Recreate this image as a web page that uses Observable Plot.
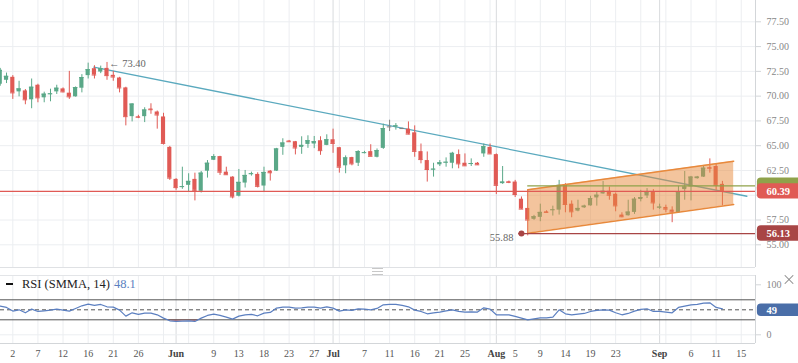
<!DOCTYPE html>
<html><head><meta charset="utf-8">
<script src="https://cdn.jsdelivr.net/npm/d3@7"></script>
<script src="https://cdn.jsdelivr.net/npm/@observablehq/plot@0.6"></script>
<style>
body{margin:0;background:#fff;}
#wrap{position:relative;width:798px;height:363px;overflow:hidden;background:#fff;font-family:"Liberation Serif",serif;}
#main{position:absolute;left:0;top:0;}
#rsi{position:absolute;left:0;top:268px;}
#legend{position:absolute;left:6px;top:277px;font-size:12.5px;color:#222;white-space:nowrap;z-index:5;}
#legend .dash{display:inline-block;width:7px;height:2px;background:#111;vertical-align:middle;margin-right:9px;margin-top:-2px;}
#legend .val{color:#5b7fc0;margin-left:4px;}
#close{position:absolute;left:784px;top:274px;width:10px;height:10px;z-index:5;}
#close::before,#close::after{content:"";position:absolute;left:-1px;top:4.5px;width:12px;height:1px;background:#888;}
#close::before{transform:rotate(45deg);}
#close::after{transform:rotate(-45deg);}
#handle{position:absolute;left:372px;top:268px;width:11px;height:5px;border-top:1px solid #c8c8c8;border-bottom:1px solid #c8c8c8;z-index:5;}
#handle::after{content:"";position:absolute;left:0;top:2px;width:11px;height:1px;background:#c8c8c8;}
</style></head>
<body>
<div id="wrap">
  <div id="main"></div>
  <div id="rsi"></div>
  <div id="handle"></div>
  <div id="legend"><span class="dash"></span>RSI (SMMA, 14)<span class="val">48.1</span></div>
  <div id="close"></div>
</div>
<script>
// ---- data (candle index starts at -2; index 0 = May 2) ----
const firstIndex = -2;
const opens  = [71.2,71.6,71.9,70.43,70.53,69.63,71.1,69.83,70.17,70.43,70.73,70.3,69.93,70.8,72.07,72.77,72.43,72.8,72.1,71.83,70.83,67.93,67.93,67.93,68.7,68.4,67.9,64.83,61.6,60.8,61.0,61.6,60.4,62.43,63.53,63.9,62.33,61.83,59.9,61.23,62.1,62.1,60.93,62.43,62.43,64.83,65.47,65.4,64.83,65.13,65.17,65.5,65.03,65.6,64.8,62.97,63.8,63.23,64.27,64.4,63.83,64.73,66.9,66.9,66.73,66.67,66.3,64.4,63.5,62.57,63.07,63.27,63.23,64.1,63.23,63.13,63.23,64.17,64.83,64.1,61.17,61.37,61.33,59.6,58.67,57.57,57.77,58.33,58.47,58.5,61.07,59.1,58.4,58.73,58.93,59.73,60.13,60.4,60.1,58.0,57.93,58.27,59.57,59.93,60.33,58.73,58.77,58.5,58.23,60.57,60.83,61.67,61.83,62.8,62.9,61.1];
const highs  = [72.8,72.33,72.07,71.5,70.67,71.73,71.2,70.4,70.7,71.1,70.83,72.5,70.93,72.17,73.33,73.07,73.03,73.4,72.5,71.9,70.9,69.23,68.07,68.83,69.23,68.5,68.27,64.93,61.67,62.83,62.17,62.23,62.4,63.5,64.1,63.93,62.83,61.87,62.6,62.5,62.33,62.27,62.83,62.5,64.73,65.7,65.53,65.43,65.9,66.0,65.93,65.9,66.1,66.67,64.83,63.97,63.83,64.5,64.43,65.1,64.67,67.17,67.57,67.23,66.77,67.4,67.0,65.17,64.37,63.23,63.5,63.77,64.33,64.57,64.17,63.67,63.3,65.17,65.17,64.17,62.9,61.43,61.5,59.83,60.5,57.97,59.1,58.43,58.9,61.5,61.17,59.43,59.5,59.0,59.9,60.33,61.4,60.83,60.23,58.23,59.5,59.77,60.5,60.67,60.57,59.1,59.0,58.83,60.9,62.4,61.9,61.9,63.0,63.67,63.17,61.4];
const lows   = [71.0,71.27,69.67,69.93,69.13,68.73,69.33,69.33,69.43,70.17,70.33,69.67,69.9,70.33,71.73,71.73,72.27,71.6,71.5,70.33,67.0,67.4,67.73,67.33,68.17,66.67,65.07,61.5,60.5,60.6,60.3,59.43,60.23,61.73,63.5,62.0,62.03,59.63,59.83,60.73,61.93,60.73,60.27,61.43,62.4,64.03,65.33,64.07,64.13,64.73,64.7,64.03,65.0,64.23,62.23,62.17,62.97,62.9,64.17,63.9,63.77,64.63,66.43,66.57,66.63,66.1,63.83,63.17,61.33,61.83,62.9,62.83,62.67,62.67,62.93,62.9,63.03,63.83,64.13,60.07,61.1,61.17,59.77,58.57,55.9,57.47,57.33,58.2,57.9,58.0,58.23,57.73,58.33,58.67,58.9,58.9,60.1,59.5,58.33,57.73,57.9,58.07,59.33,59.67,58.5,58.57,58.23,57.23,58.17,59.5,59.43,61.63,61.8,62.23,60.5,58.93];
const closes = [72.6,72.0,70.33,70.73,69.63,70.9,69.83,70.2,70.23,70.8,70.43,69.93,70.87,71.87,72.67,72.13,72.77,72.07,71.93,70.83,67.93,69.2,67.87,68.6,68.63,68.1,65.23,61.73,60.77,60.87,61.4,60.5,62.23,63.23,63.9,62.33,62.07,59.83,61.3,62.0,62.17,60.9,62.3,62.27,64.67,65.27,65.4,64.77,65.03,65.5,65.4,64.5,65.6,65.23,62.83,63.77,63.17,64.4,64.3,63.93,64.5,66.73,66.9,67.0,66.73,66.17,64.43,63.6,62.6,62.63,63.27,63.33,64.23,63.17,62.97,63.2,63.07,64.9,64.17,61.0,61.33,61.3,60.07,58.6,57.5,57.83,58.27,58.27,58.53,61.0,59.07,58.33,58.67,58.9,59.67,60.0,60.4,60.0,58.93,57.83,58.3,59.6,59.77,60.33,59.23,58.8,58.6,58.3,60.33,60.83,61.83,61.83,62.73,62.73,61.0,60.39];
const rsiValues = [57.4,54.7,47.4,50,44,51.4,46.7,48,49.4,51.4,49.4,47.4,52.7,58,61.4,58.7,60.7,56,55.4,49.4,37.4,44,40.7,43.4,43.4,40,33.4,28,26.7,27.4,28,26.7,33.4,38.7,41.4,38.7,35.4,31.4,37.4,40,40.7,38,43.4,44.7,53.4,55.4,55.4,53.4,54,55.4,55.4,53.4,56,53.4,47.4,50,48.7,52,51.4,50,52.7,60,60.7,60.7,58.7,56,49.4,46.7,42,44,45.4,48,50,46.7,45.4,46,45.4,54,51.4,40,40,40,36.7,33.4,30,32,34,34,35.4,50,42,40,41.4,42.7,46.7,48.7,50,49.4,44,40,42.7,47.4,50.7,52,46.7,46.7,45.4,44,54.7,57.4,60,60.7,63.4,64,54.7,52];

const priceTicks = [55,57.5,60,62.5,65,67.5,70,72.5,75,77.5];
const priceLabelTicks = [55,57.5,62.5,65,67.5,70,72.5,75,77.5]; // 60.00 sits under the last-price tab
const rsiTicks = [0,100];
const gridIndex = d3.range(0, 117, 4);
const dayTickIndex  = [0,4,8,12,16,20,32,36,40,44,48,56,60,64,68,72,80,84,88,92,96,108,112,116];
const dayTickLabels = ["2","7","12","16","21","26","9","13","18","23","27","7","11","16","21","25","5","9","14","19","23","6","11","15"];
const monthIndex  = [26,51,77,103];
const monthLabels = ["Jun","Jul","Aug","Sep"];

const trendLine = [{i:12.9, p:72.92},{i:116.9, p:59.9}];
const channelTop = [{i:82, p:60.55},{i:114.8, p:63.44}];
const channelBottom = [{i:82, p:56.17},{i:114.8, p:59.07}];
const lastPrice = 60.39;
const olivePrice = 60.95;
const lowLevel = 56.13;
const lowLevelStart = 81;
const lowLabel = "55.88";
const highIndex = 15, highValue = 73.40;
const rsiLast = 49;

// ---- build ----
const candles = opens.map((o,k)=>({i:firstIndex+k,o,h:highs[k],l:lows[k],c:closes[k]}));
const col = d => d.c > d.o ? "#5aa888" : d.c < d.o ? "#e05a55" : "#808080";
const rsiData = rsiValues.map((v,k)=>({i:firstIndex+k, v}));

const xDomain = [-1.96, 118.27];
const xEnd = xDomain[1];
const tabX1 = xEnd + 0.3, tabX2 = xEnd + 8, tabText = xEnd + 1.75;
const fontF = "Liberation Serif, serif";

const main = Plot.plot({
  width: 798, height: 268,
  marginLeft: 0, marginRight: 43, marginTop: 0, marginBottom: 1,
  x: {domain: xDomain, axis: null},
  y: {domain: [52.71, 79.65], axis: null},
  style: {fontFamily: fontF, background: "transparent", overflow: "visible"},
  marks: [
    Plot.ruleY(priceTicks, {stroke: "#eceef1"}),
    Plot.ruleX(gridIndex, {stroke: "#eceef1"}),
    Plot.ruleX(monthIndex, {stroke: "#d9dbde"}),
    Plot.ruleY([52.71], {stroke: "#dfe1e4"}),
    Plot.ruleX([xEnd], {stroke: "#d3d6d9"}),
    Plot.line(trendLine, {x: "i", y: "p", stroke: "#5aa9be", strokeWidth: 1.3}),
    Plot.ruleX(candles, {x: "i", y1: "l", y2: "h", stroke: col, strokeWidth: 1}),
    Plot.rect(candles, {x1: d => d.i - 0.33, x2: d => d.i + 0.33, y1: d => Math.min(d.o, d.c), y2: d => Math.max(d.o, d.c), fill: col}),
    Plot.ruleY(candles, {x1: d => d.i - 0.36, x2: d => d.i + 0.36, y: "c", stroke: col, strokeWidth: 1}),
    Plot.areaY(channelTop.map((d,k)=>({i:d.i, top:d.p, bot:channelBottom[k].p})), {x: "i", y1: "bot", y2: "top", fill: "#e8893c", fillOpacity: 0.5}),
    Plot.line(channelTop, {x: "i", y: "p", stroke: "#e8893c", strokeWidth: 1.5}),
    Plot.line(channelBottom, {x: "i", y: "p", stroke: "#e8893c", strokeWidth: 1.5}),
    Plot.ruleY([olivePrice], {x1: 82, x2: xEnd, stroke: "#8fa24a", strokeWidth: 1.3}),
    Plot.ruleY([lastPrice], {stroke: "#e05a55", strokeWidth: 1.3}),
    Plot.ruleY([lowLevel], {x1: lowLevelStart, x2: xEnd, stroke: "#a84545", strokeWidth: 1.3}),
    Plot.ruleY([lowLevel], {x1: lowLevelStart - 0.45, x2: lowLevelStart + 0.45, stroke: "#a84545", strokeWidth: 1.5}),
    Plot.dot([lowLevel], {x: lowLevelStart, y: d => d, r: 3, fill: "#a84545"}),
    Plot.text([lowLabel], {x: lowLevelStart, y: lowLevel, text: d => d, dx: -8, dy: 4, textAnchor: "end", fill: "#666", fontSize: 10.5}),
    Plot.text([highValue], {x: highIndex, y: highValue, text: d => "← " + d.toFixed(2), dx: 2, dy: 1, textAnchor: "start", fill: "#666", fontSize: 10.5}),
    Plot.axisY(priceTicks, {anchor: "right", label: null, tickSize: 5, tickPadding: 6, tickFormat: () => "", stroke: "#d3d6d9"}),
    Plot.axisY(priceLabelTicks, {anchor: "right", label: null, tickSize: 0, tickPadding: 11, tickFormat: d => d.toFixed(2), fontSize: 10, color: "#888"}),
    Plot.rect([olivePrice], {x1: tabX1, x2: tabX2, y1: d => d - 0.78, y2: d => d + 0.78, fill: "#8fa24a", rx: 4}),
    Plot.rect([lastPrice], {x1: tabX1, x2: tabX2, y1: d => d - 0.78, y2: d => d + 0.78, fill: "#e05a55", rx: 4}),
    Plot.text([lastPrice], {x: tabText, y: d => d, text: d => d.toFixed(2), fill: "white", fontWeight: "bold", fontSize: 10.5, textAnchor: "start"}),
    Plot.rect([lowLevel], {x1: tabX1, x2: tabX2, y1: d => d - 0.78, y2: d => d + 0.78, fill: "#a84545", rx: 4}),
    Plot.text([lowLevel], {x: tabText, y: d => d, text: d => d.toFixed(2), fill: "white", fontWeight: "bold", fontSize: 10.5, textAnchor: "start"})
  ]
});
document.getElementById("main").appendChild(main);

const rsiRedArea = rsiData.map(d => ({i: d.i, lo: Math.min(d.v, 30)}));
const rsiPlot = Plot.plot({
  width: 798, height: 95,
  marginLeft: 0, marginRight: 43, marginTop: 7, marginBottom: 20,
  x: {domain: xDomain, axis: null},
  y: {domain: [-17.4, 118.6], axis: null},
  style: {fontFamily: fontF, background: "transparent", overflow: "visible"},
  marks: [
    Plot.ruleX(gridIndex, {stroke: "#eceef1"}),
    Plot.ruleX(monthIndex, {stroke: "#d9dbde"}),
    Plot.ruleY([118.6], {stroke: "#e3e5e8"}),
    Plot.ruleY([0], {stroke: "#eceef1"}),
    Plot.ruleY([-17.4], {stroke: "#d3d6d9"}),
    Plot.ruleX([xEnd], {stroke: "#d3d6d9"}),
    Plot.areaY(rsiRedArea, {x: "i", y1: 30, y2: "lo", fill: "#e26a6a", fillOpacity: 0.9}),
    Plot.ruleY([70, 30], {stroke: "#555", strokeWidth: 1}),
    Plot.ruleY([50], {stroke: "#555", strokeDasharray: "4,3", strokeWidth: 1}),
    Plot.line(rsiData, {x: "i", y: "v", stroke: "#5b7fc0", strokeWidth: 1.2}),
    Plot.axisY(rsiTicks, {anchor: "right", label: null, tickSize: 5, tickPadding: 6, fontSize: 10, color: "#888", stroke: "#d3d6d9"}),
    Plot.axisX(dayTickIndex, {anchor: "bottom", label: null, tickSize: 0, tickPadding: 6, tickFormat: d => dayTickLabels[dayTickIndex.indexOf(d)], fontSize: 10, color: "#555"}),
    Plot.axisX(monthIndex, {anchor: "bottom", label: null, tickSize: 0, tickPadding: 6, tickFormat: d => monthLabels[monthIndex.indexOf(d)], fontSize: 10, fontWeight: "bold", color: "#444"}),
    Plot.rect([rsiLast], {x1: tabX1, x2: tabX2, y1: d => d - 12.5, y2: d => d + 12.5, fill: "#4a6ea8", rx: 4}),
    Plot.text([rsiLast], {x: tabText, y: d => d, text: d => String(d), fill: "white", fontWeight: "bold", fontSize: 10.5, textAnchor: "start"})
  ]
});
document.getElementById("rsi").appendChild(rsiPlot);
</script>
</body></html>
